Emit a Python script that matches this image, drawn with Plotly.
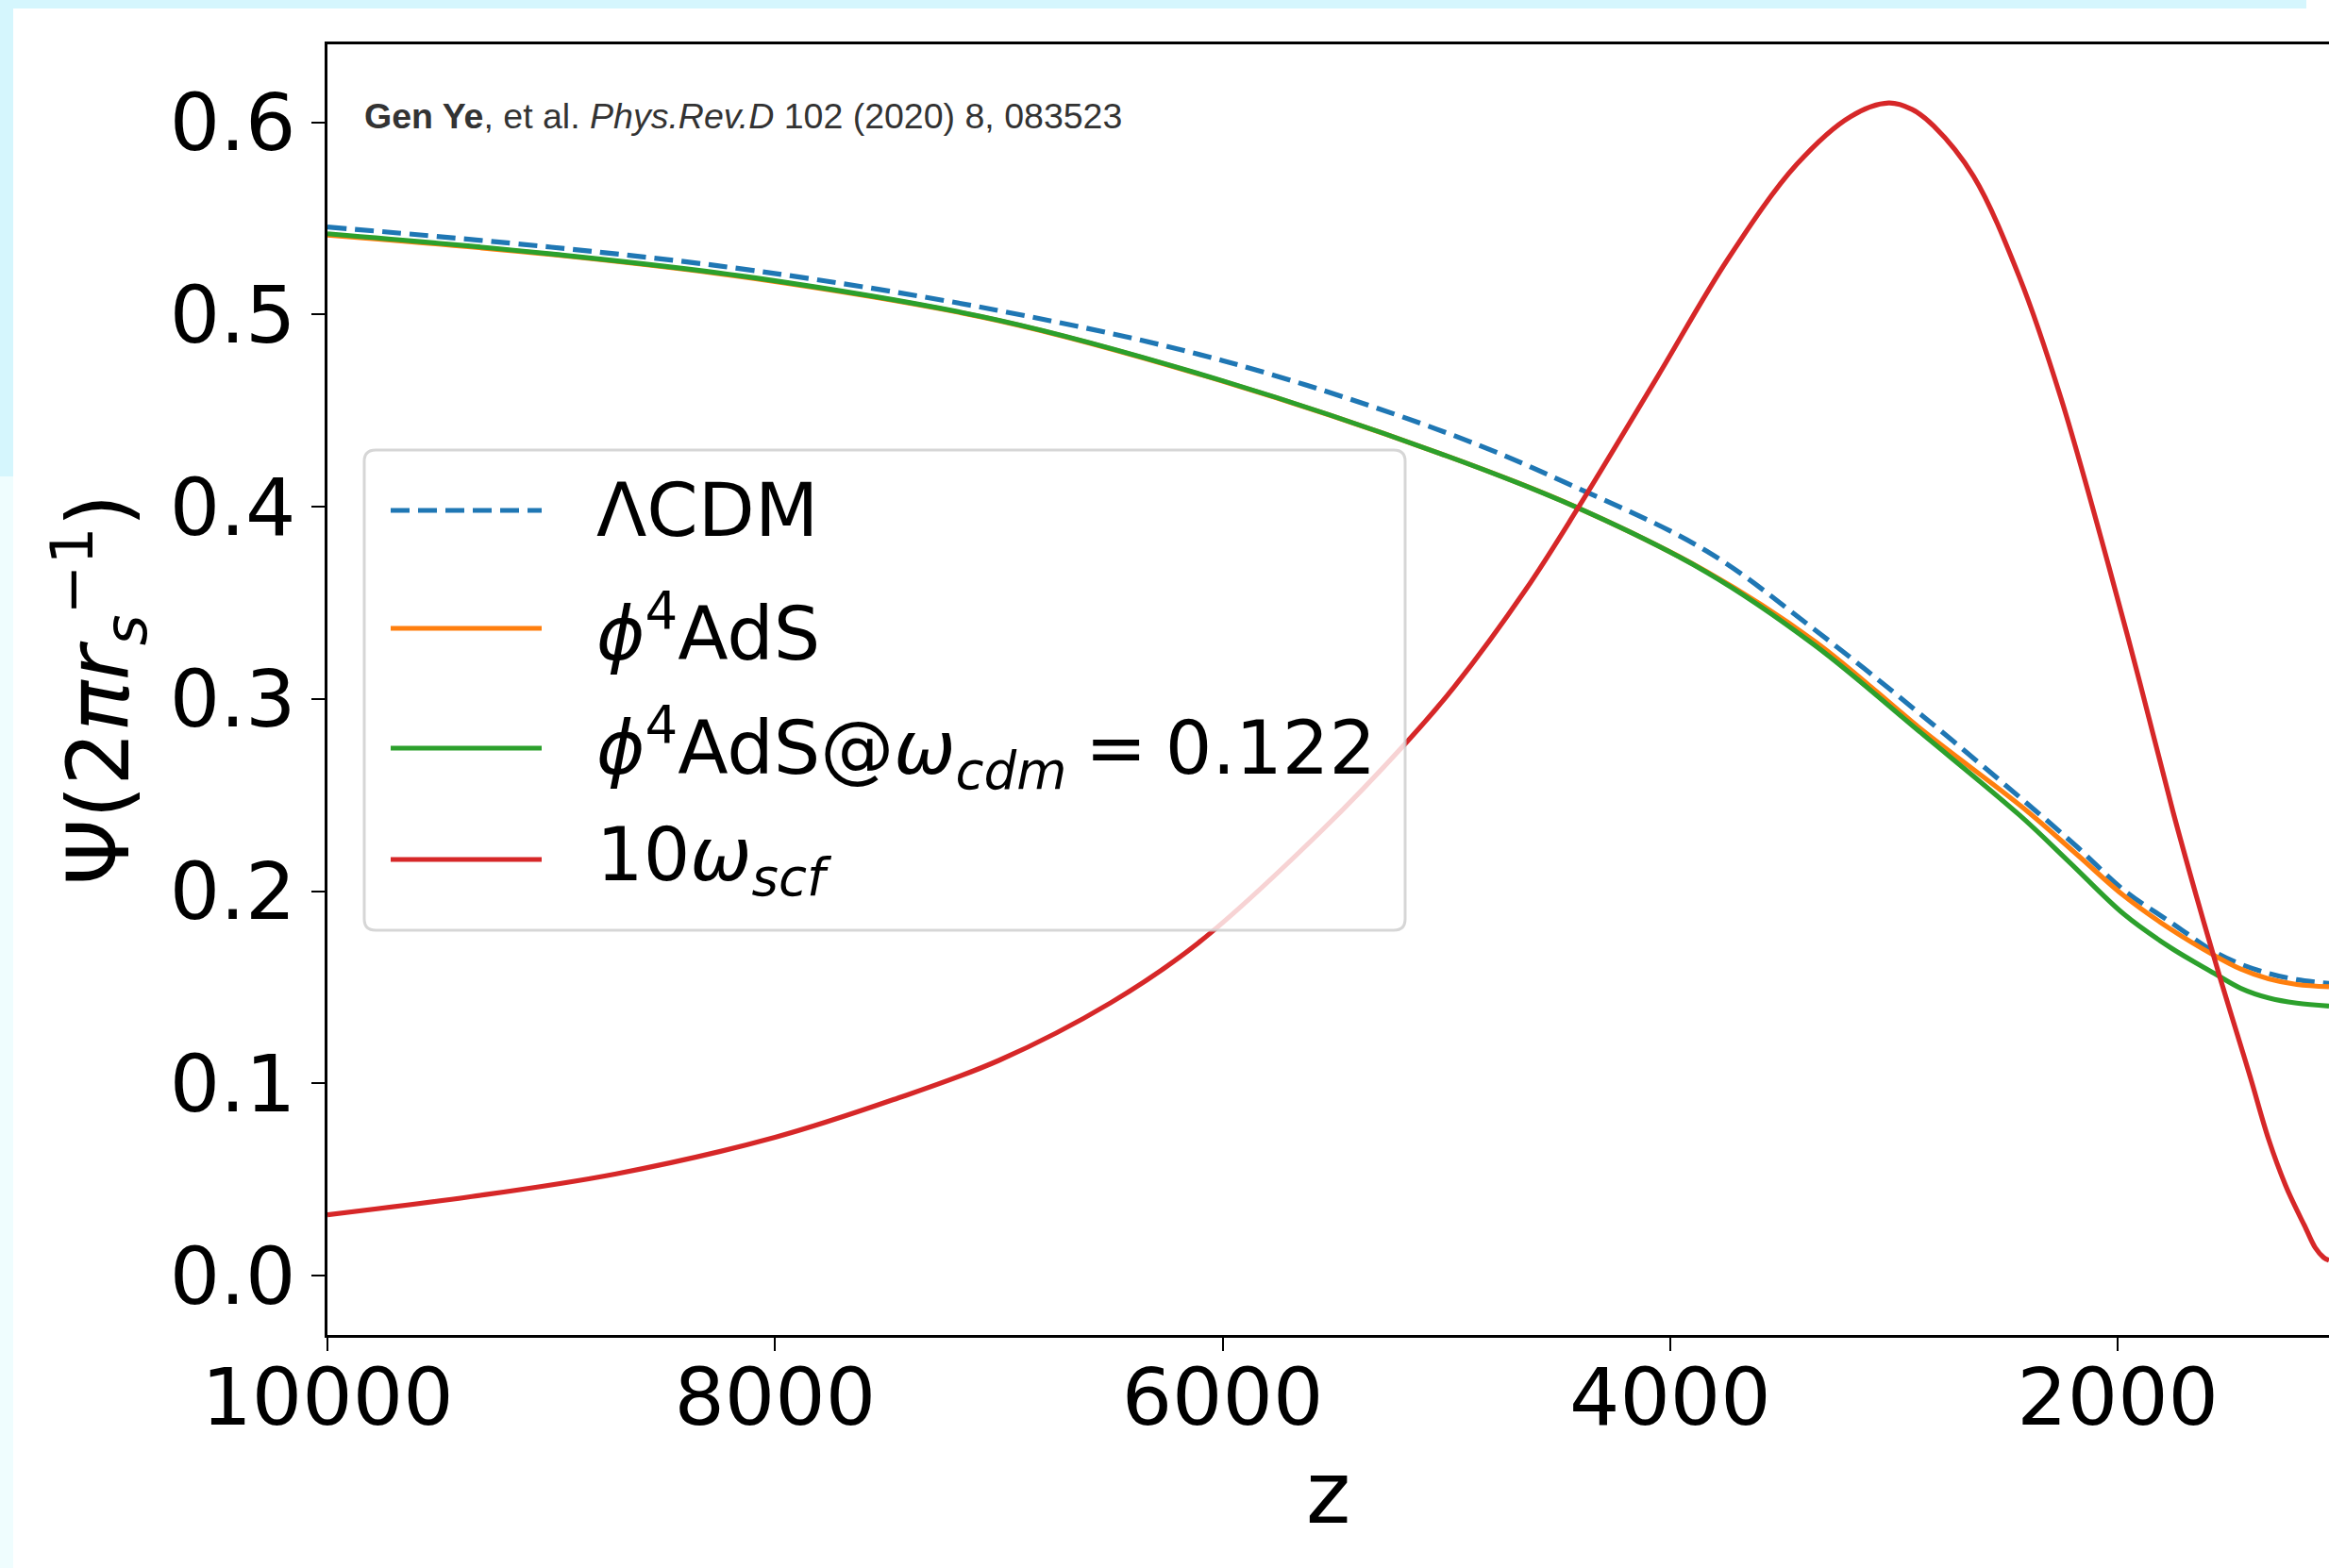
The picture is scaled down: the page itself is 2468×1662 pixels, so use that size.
import plotly.graph_objects as go

# ---------------- data ----------------
z_lcdm = [10000, 9000, 8086, 7000, 6000, 5000, 4419, 3838, 3354, 2870, 2424, 2181, 1972, 1760, 1570, 1450, 1326, 1200, 1056]
psi_lcdm = [0.5455, 0.535, 0.5227, 0.502, 0.476, 0.4385, 0.410, 0.377, 0.336, 0.291, 0.2475, 0.223, 0.2005, 0.1836, 0.1686, 0.1620, 0.1573, 0.1540, 0.152]

z_ads = [10000, 9000, 8086, 7000, 6000, 5000, 4419, 3838, 3354, 2870, 2424, 2181, 1972, 1760, 1570, 1450, 1326, 1200, 1056]
psi_ads = [0.5413, 0.5312, 0.5186, 0.4968, 0.4653, 0.4265, 0.3998, 0.3663, 0.330, 0.2835, 0.2435, 0.219, 0.1976, 0.180, 0.1667, 0.1595, 0.1544, 0.1515, 0.1503]

z_ads122 = [10000, 9000, 8086, 7000, 6000, 5000, 4419, 3838, 3354, 2870, 2438, 2215, 1972, 1762, 1570, 1450, 1326, 1200, 1056]
psi_ads122 = [0.542, 0.5315, 0.519, 0.497, 0.4655, 0.4265, 0.3997, 0.366, 0.328, 0.2815, 0.2395, 0.2150, 0.188, 0.1705, 0.1574, 0.1495, 0.1445, 0.1418, 0.1403]

z_scf = [10000, 9355, 8710, 8000, 7471, 7000, 6500, 6110, 5562, 5174, 4967, 4645, 4419, 4065, 3741, 3435, 3193, 3024,
         2920, 2822, 2645, 2438, 2255, 2040, 1900, 1754, 1650, 1544, 1488, 1407, 1326, 1250, 1199, 1165, 1117, 1080, 1056]
psi_scf = [0.0317, 0.0412, 0.053, 0.072, 0.0916, 0.112, 0.142, 0.173, 0.231, 0.278, 0.306, 0.357, 0.398, 0.466, 0.529, 0.578, 0.603, 0.610,
           0.6067, 0.598, 0.572, 0.519, 0.457, 0.369, 0.308, 0.2418, 0.198, 0.1554, 0.134, 0.103, 0.071, 0.047, 0.034, 0.026, 0.0145, 0.0095, 0.008]

x_ticks = [10000, 8000, 6000, 4000, 2000]
y_ticks = [0.0, 0.1, 0.2, 0.3, 0.4, 0.5, 0.6]

legend_labels = [
    "ΛCDM",
    "<i>ϕ</i><sup>4</sup>AdS",
    "<i>ϕ</i><sup>4</sup>AdS@<i>ω</i><sub><i>cdm</i></sub>\u2005=\u20050.122",
    "10<i>ω</i><sub><i>scf</i></sub>",
]
colors = ["#1f77b4", "#ff7f0e", "#2ca02c", "#d62728"]
dashes = ["20px,9px", "solid", "solid", "solid"]

# ---------------- layout geometry (pixels) ----------------
W, H = 2468, 1662
L, R, T, B = 347, 0, 47, 247
PW, PH = W - L - R, H - T - B


def px(xp):
    return (xp - L) / PW


def py(yp):
    return (H - B - yp) / PH


FONT = "DejaVu Sans"

fig = go.Figure()
series = [(z_lcdm, psi_lcdm), (z_ads, psi_ads), (z_ads122, psi_ads122), (z_scf, psi_scf)]
for (zz, vv), lab, c, d in zip(series, legend_labels, colors, dashes):
    fig.add_trace(go.Scatter(
        x=zz, y=vv, mode="lines", name=lab, showlegend=False,
        line=dict(color=c, width=5.2, dash=d, shape="spline", smoothing=1.0),
        hoverinfo="skip",
    ))

shapes = []
# light-cyan screenshot border bands
shapes.append(dict(type="rect", xref="paper", yref="paper", layer="below",
                   x0=px(0), x1=px(2444), y0=py(9), y1=py(0),
                   fillcolor="#d5f6fd", line=dict(width=0)))
shapes.append(dict(type="rect", xref="paper", yref="paper", layer="below",
                   x0=px(0), x1=px(14), y0=py(505), y1=py(0),
                   fillcolor="#d5f6fd", line=dict(width=0)))
shapes.append(dict(type="rect", xref="paper", yref="paper", layer="below",
                   x0=px(0), x1=px(14), y0=py(H), y1=py(505),
                   fillcolor="#effdfe", line=dict(width=0)))

# legend frame (rounded)
bx0, by0, bx1, by1, rr = 386, 477, 1489, 986, 12
rx, ry = rr / PW, rr / PH
X0, X1, Y0, Y1 = px(bx0), px(bx1), py(by1), py(by0)
path = (f"M {X0+rx},{Y1} L {X1-rx},{Y1} Q {X1},{Y1} {X1},{Y1-ry} "
        f"L {X1},{Y0+ry} Q {X1},{Y0} {X1-rx},{Y0} L {X0+rx},{Y0} "
        f"Q {X0},{Y0} {X0},{Y0+ry} L {X0},{Y1-ry} Q {X0},{Y1} {X0+rx},{Y1} Z")
shapes.append(dict(type="path", xref="paper", yref="paper", layer="above", path=path,
                   fillcolor="rgba(255,255,255,0.8)", line=dict(color="rgba(204,204,204,0.8)", width=3)))

legend_rows = [541, 666, 793, 911]
annotations = []
for yrow, lab, c, d in zip(legend_rows, legend_labels, colors, dashes):
    shapes.append(dict(type="line", xref="paper", yref="paper", layer="above",
                       x0=px(414), x1=px(574), y0=py(yrow), y1=py(yrow),
                       line=dict(color=c, width=5.2, dash=d)))
    annotations.append(dict(xref="paper", yref="paper", x=px(630), y=py(yrow),
                            xanchor="left", yanchor="middle", showarrow=False,
                            text=lab, font=dict(family=FONT, size=78, color="black")))

annotations.append(dict(xref="paper", yref="paper", x=px(384), y=py(123),
                        xanchor="left", yanchor="middle", showarrow=False,
                        text="<b>Gen Ye</b>, et al. <i>Phys.Rev.D</i> 102 (2020) 8, 083523",
                        font=dict(family="Liberation Sans, Arial", size=37.5, color="#333333")))

fig.update_layout(
    width=W, height=H,
    margin=dict(l=L, r=R, t=T, b=B, pad=0),
    paper_bgcolor="white", plot_bgcolor="white",
    font=dict(family=FONT, color="black"),
    shapes=shapes, annotations=annotations,
    showlegend=False,
)
fig.update_xaxes(
    range=[10000, 1056], tickvals=x_ticks, ticktext=[str(v) for v in x_ticks],
    ticks="outside", ticklen=14, tickwidth=2, tickcolor="black",
    showline=True, linecolor="black", linewidth=2.5, mirror=True,
    showgrid=False, zeroline=False, automargin=False,
    ticklabelstandoff=-23,
    tickfont=dict(family=FONT, size=84, color="black"),
    title=dict(text="z", font=dict(family=FONT, size=90, color="black"), standoff=20),
)
fig.update_yaxes(
    range=[-0.0308, 0.6405], tickvals=y_ticks, ticktext=[f"{v:.1f}" for v in y_ticks],
    ticks="outside", ticklen=14, tickwidth=2, tickcolor="black",
    showline=True, linecolor="black", linewidth=2.5, mirror=False,
    showgrid=False, zeroline=False, automargin=False,
    tickfont=dict(family=FONT, size=84, color="black"),
    title=dict(text="Ψ(2<i>πr</i><sub><i>s</i></sub><sup>−1</sup>)",
               font=dict(family=FONT, size=90, color="black"), standoff=14),
)

fig.write_html("out.html")
